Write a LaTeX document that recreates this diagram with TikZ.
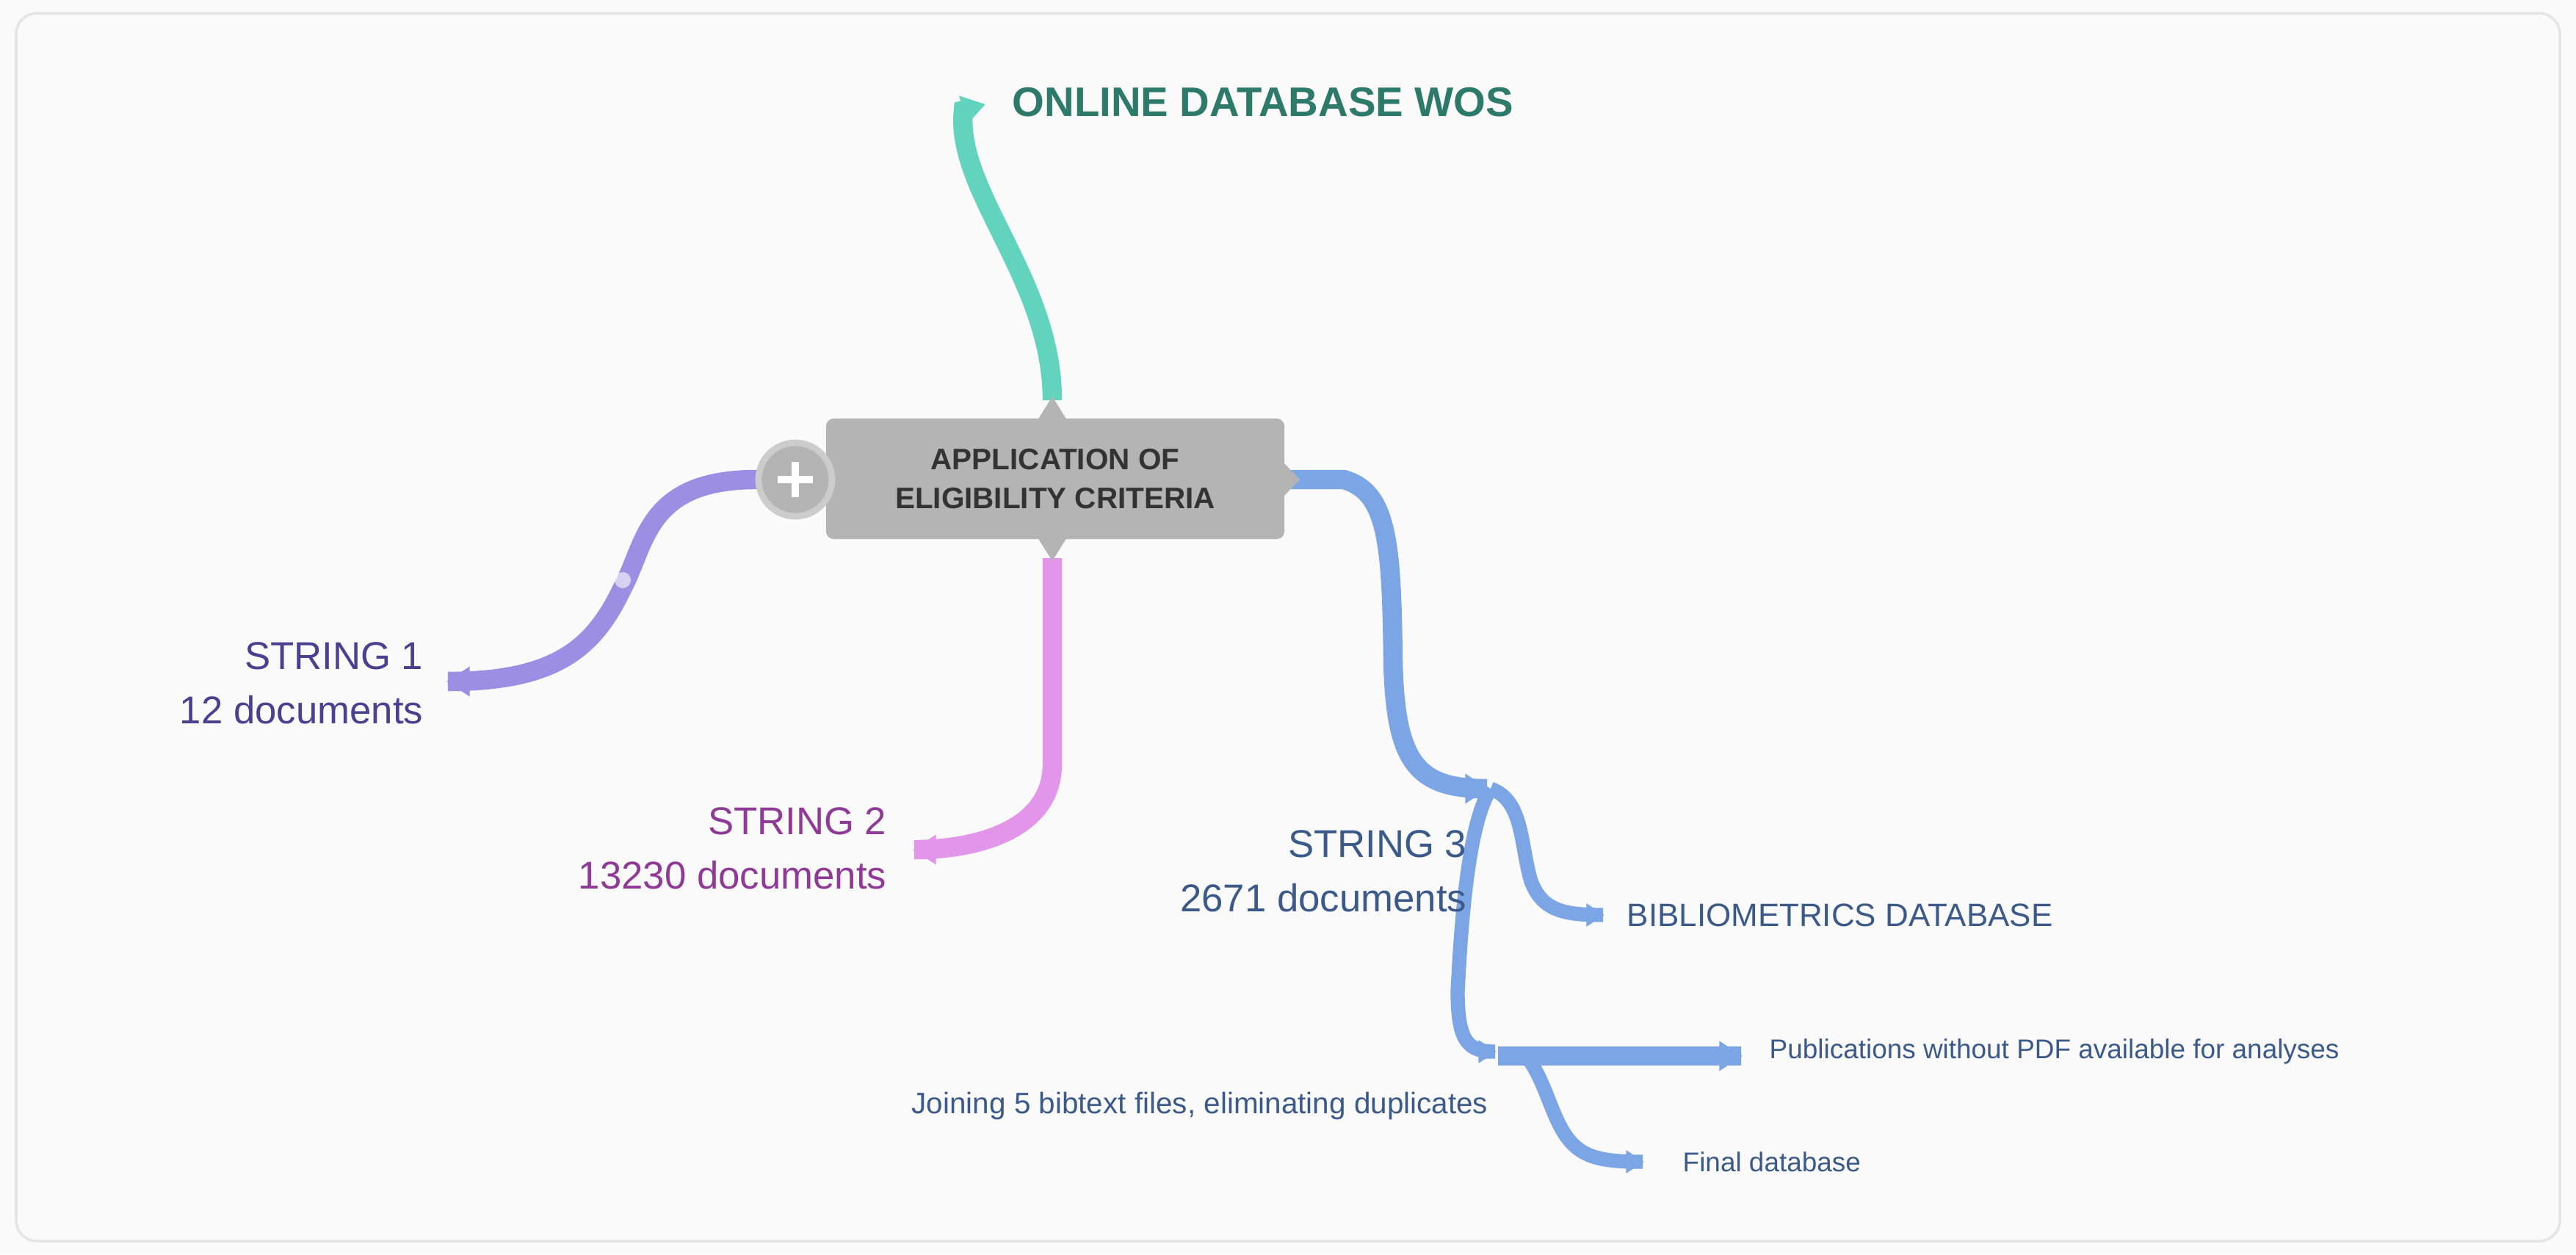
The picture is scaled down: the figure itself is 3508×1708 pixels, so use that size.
\documentclass[tikz,border=0pt]{standalone}
\usepackage{fontspec}
\setmainfont{Liberation Sans}
\usetikzlibrary{arrows.meta}
\definecolor{bg}{HTML}{FAFAFA}
\definecolor{teal}{HTML}{62D4BE}
\definecolor{tealtxt}{HTML}{2E7A6A}
\definecolor{purp}{HTML}{9C8EE2}
\definecolor{purptxt}{HTML}{4B3F8F}
\definecolor{pink}{HTML}{E196E9}
\definecolor{pinktxt}{HTML}{8E3A96}
\definecolor{blu}{HTML}{7BA5E5}
\definecolor{blutxt}{HTML}{3B5A8A}
\definecolor{boxg}{HTML}{B4B4B4}
\begin{document}
\begin{tikzpicture}[x=0.01cm,y=-0.01cm,
  br/.style={line width=7.5pt,line cap=butt,-{Triangle[length=9pt,width=11pt]}},
  brs/.style={line width=5.5pt,line cap=butt,-{Triangle[length=7pt,width=8.5pt]}},
  lab/.style={inner sep=0pt,align=right,anchor=east},
  labl/.style={inner sep=0pt,anchor=west}]
\fill[bg] (0,0) rectangle (3508,1708);
\draw[black!10,line width=1pt,rounded corners=8pt] (22,18) rectangle (3486,1690);
\useasboundingbox (0,0) rectangle (3508,1708);
% coordinates
\coordinate (tT) at (1312,150);
\coordinate (tS) at (1433,545);
\coordinate (pS) at (1030,653);
\coordinate (pT) at (610,928);
\coordinate (kS) at (1433,760);
\coordinate (kT) at (1245,1157);
\coordinate (bS) at (1752,653);
\coordinate (b1) at (2025,1074);
\coordinate (b2) at (2183,1246);
\coordinate (b3) at (2036,1432);
\coordinate (b4) at (2371,1438);
\coordinate (b5) at (2237,1582);
% branches
\draw[br,teal] (tS) .. controls (1433,380) and (1300,260) .. (tT) -- +(30,-8);
\draw[br,purp] (pS) .. controls (880,653) and (880,740) .. (848,800) .. controls (810,880) and (760,928) .. (pT) -- +(-2,0);
\fill[white,opacity=.6] (848,790) circle (11);
\draw[br,pink] (kS) -- (1433,1040) .. controls (1433,1130) and (1330,1157) .. (kT) -- +(-2,0);
\draw[br,blu] (bS) -- (1830,653) .. controls (1890,670) and (1895,740) .. (1897,900) .. controls (1900,1040) and (1930,1074) .. (b1) -- +(2,0);
\draw[brs,blu] (2030,1074) .. controls (2075,1090) and (2070,1150) .. (2085,1200) .. controls (2100,1240) and (2130,1246) .. (b2) -- +(2,0);
\draw[brs,blu] (2030,1074) .. controls (2000,1120) and (1990,1250) .. (1985,1350) .. controls (1985,1420) and (2000,1432) .. (b3) -- +(2,0);
\draw[br,blu] (2040,1438) -- (b4) -- +(2,0);
\draw[brs,blu] (2080,1440) .. controls (2110,1480) and (2115,1540) .. (2150,1565) .. controls (2170,1580) and (2200,1582) .. (b5) -- +(2,0);
% central box
\node[fill=boxg,rounded corners=3pt,minimum width=6.24cm,minimum height=1.64cm,
  font=\fontsize{11.5pt}{15pt}\selectfont\bfseries,text=black!80,align=center] (box) at (1437,652)
  {APPLICATION OF\\ELIGIBILITY CRITERIA};
\fill[boxg] (1413,572) -- (1433,540) -- (1453,572) -- cycle;
\fill[boxg] (1413,732) -- (1433,764) -- (1453,732) -- cycle;
\fill[boxg] (1748,630) -- (1770,653) -- (1748,676) -- cycle;
\node[circle,fill=boxg,draw=black!20,line width=2.5pt,minimum size=1.0cm,inner sep=0pt] (plus) at (1083,653) {};
\fill[white] (1059,648) rectangle (1107,658);
\fill[white] (1078,629) rectangle (1088,677);
% labels
\node[labl,font=\fontsize{16pt}{19pt}\selectfont\bfseries,text=tealtxt] (wos) at (1378,139) {ONLINE DATABASE WOS};
\node[lab,font=\fontsize{15pt}{21pt}\selectfont,text=purptxt] (s1) at (577,930) {STRING 1\\12 documents};
\node[lab,font=\fontsize{15pt}{21pt}\selectfont,text=pinktxt] (s2) at (1208,1155) {STRING 2\\13230 documents};
\node[lab,font=\fontsize{15pt}{21pt}\selectfont,text=blutxt] (s3) at (1998,1186) {STRING 3\\2671 documents};
\node[labl,font=\fontsize{12.5pt}{15pt}\selectfont,text=blutxt] (bib) at (2215,1246) {BIBLIOMETRICS DATABASE};
\node[labl,font=\fontsize{10.5pt}{13pt}\selectfont,text=blutxt] (pub) at (2409,1432) {Publications without PDF available for analyses};
\node[labl,font=\fontsize{10.5pt}{13pt}\selectfont,text=blutxt] (fin) at (2291,1582) {Final database};
\node[lab,font=\fontsize{11.5pt}{14pt}\selectfont,text=blutxt] (join) at (2027,1506) {Joining 5 bibtext files, eliminating duplicates};
\end{tikzpicture}
\end{document}
